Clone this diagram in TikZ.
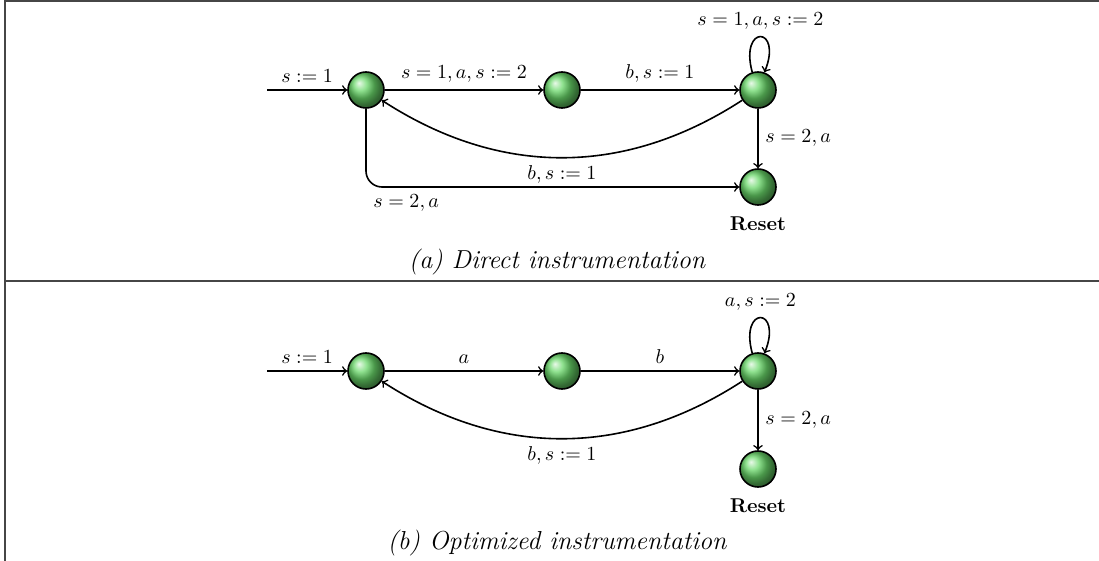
\documentclass[tikz,border=0pt]{standalone}
\usetikzlibrary{shadings}
\definecolor{ballgreen}{RGB}{105,215,105}
\definecolor{framegray}{RGB}{70,70,70}
\begin{document}
\begin{tikzpicture}[x=0.5pt,y=0.5pt,
  state/.style={circle, draw=black, line width=0.8pt, inner sep=0pt, minimum size=18pt, ball color=ballgreen},
  edge/.style={->, line width=0.8pt},
  resetlbl/.style={label={[font=\bfseries, label distance=2pt]below:Reset}},
  capt/.style={font=\fontsize{13}{15}\selectfont\itshape},
  frameline/.style={draw=framegray, line width=0.6pt}
]
\useasboundingbox (0,0) rectangle (1099,-561);
% frame
\draw[frameline] (5,0) -- (5,-561);
\draw[frameline] (5,-1) -- (1099,-1);
\draw[frameline] (5,-281) -- (1099,-281);

% (a) direct instrumentation
\node[state] (a0) at (366,-90) {};
\node[state] (a1) at (562,-90) {};
\node[state] (a2) at (758,-90) {};
\node[state, resetlbl] (ar) at (758,-187) {};
\coordinate (ai) at (267,-90);
\draw[edge] (ai) -- node[above] {$s:=1$} (a0);
\draw[edge] (a0) -- node[above] {$s=1,a,s:=2$} (a1);
\draw[edge] (a1) -- node[above] {$b,s:=1$} (a2);
\draw[edge] (a2.108) .. controls +(105:50) and +(68:50) .. node[above] {$s=1,a,s:=2$} (a2.70);
\draw[edge] (a2) to[bend left=33] node[below] {$b,s:=1$} (a0);
\draw[edge] (a2) -- node[right] {$s=2,a$} (ar);
\draw[edge, rounded corners=8] (a0) |- node[pos=0.5, below right] {$s=2,a$} (ar);
\node[capt] (capa) at (557,-262) {(a) Direct instrumentation};

% (b) optimized instrumentation
\begin{scope}[yshift=-140.5pt]
\node[state] (b0) at (366,-90) {};
\node[state] (b1) at (562,-90) {};
\node[state] (b2) at (758,-90) {};
\node[state, resetlbl] (br) at (758,-188) {};
\coordinate (bi) at (267,-90);
\draw[edge] (bi) -- node[above] {$s:=1$} (b0);
\draw[edge] (b0) -- node[above] {$a$} (b1);
\draw[edge] (b1) -- node[above] {$b$} (b2);
\draw[edge] (b2.108) .. controls +(105:50) and +(68:50) .. node[above] {$a,s:=2$} (b2.70);
\draw[edge] (b2) to[bend left=33] node[below] {$b,s:=1$} (b0);
\draw[edge] (b2) -- node[right] {$s=2,a$} (br);
\node[capt] (capb) at (557,-262) {(b) Optimized instrumentation};
\end{scope}
\end{tikzpicture}
\end{document}
